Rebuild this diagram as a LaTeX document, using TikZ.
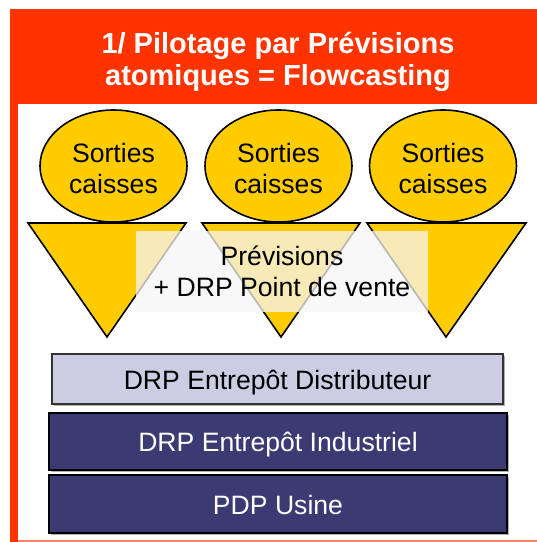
\documentclass[tikz,border=0pt]{standalone}
\usepackage{fontspec}
\setmainfont{Liberation Sans}
\usetikzlibrary{shapes.geometric}

\definecolor{headred}{HTML}{FF3300}
\definecolor{salmon}{HTML}{F8876A}
\definecolor{gold}{HTML}{FFCC00}
\definecolor{lavender}{HTML}{CCCCE3}
\definecolor{navy}{HTML}{3C3A72}

\tikzset{
  bigtext/.style={font=\fontsize{26.6}{31}\selectfont},
  sortie/.style={ellipse, draw=black, line width=1.6pt, fill=gold,
    minimum width=147pt, minimum height=112pt, inner sep=0pt,
    label={[bigtext, align=center, inner sep=0pt, yshift=-2.5pt]center:Sorties\\caisses}},
  cone/.style={draw=black, line width=1.6pt, fill=gold, line join=miter},
  veil/.style={fill=white!96!black, fill opacity=0.75, draw=none},
  layer/.style={draw=black, line width=2pt, inner sep=0pt, bigtext,
    text height=20pt, text depth=0pt},
  shadow/.style={fill=black!30, draw=none}
}

\begin{document}
\begin{tikzpicture}[x=1pt, y=-1pt]
  \useasboundingbox (0,0) rectangle (537,542);

  % frame: red header band, left stripe and thin bottom rule
  \fill[headred] (10,9) rectangle (537,104);
  \fill[headred] (10,104) rectangle (17.5,542);
  \draw[salmon, line width=1.2pt] (17.5,541) -- (537,541);
  \node[text=white, align=center, inner sep=0pt,
        font=\fontsize{29}{32}\selectfont\bfseries] (title) at (278,62)
        {1/ Pilotage par Prévisions\\atomiques = Flowcasting};

  % three point-of-sale demand sources
  \node[sortie] (s1) at (113.5,166) {};
  \node[sortie] (s2) at (278.5,166) {};
  \node[sortie] (s3) at (443,166) {};

  % inverted triangles below each source
  \draw[cone] (28,223) -- (186,223) -- (107,337) -- cycle;
  \draw[cone] (202,223) -- (360,223) -- (281,337) -- cycle;
  \draw[cone] (367,223) -- (526,223) -- (446,337) -- cycle;

  % translucent label panel over the triangles
  \fill[veil] (136,231) rectangle (428,312);
  \node[align=center, inner sep=0pt, bigtext]
        (prev) at (282,271) {Prévisions\\+ DRP Point de vente};

  % planning layers
  \fill[shadow] (53.5,355.5) rectangle (504.5,405.5);
  \node[layer, draw=black!80, line width=1.5pt, fill=lavender,
        minimum width=451pt, minimum height=50pt] (dist) at (277.5,379)
        {DRP Entrepôt Distributeur};
  \fill[shadow] (50.5,414.5) rectangle (508.5,471.5);
  \node[layer, fill=navy, text=white,
        minimum width=458pt, minimum height=57pt] (indus) at (278,441.5)
        {DRP Entrepôt Industriel};
  \fill[shadow] (50.5,476.5) rectangle (508.5,534.5);
  \node[layer, fill=navy, text=white,
        minimum width=458pt, minimum height=58pt] (pdp) at (278,504)
        {PDP Usine};
\end{tikzpicture}
\end{document}
